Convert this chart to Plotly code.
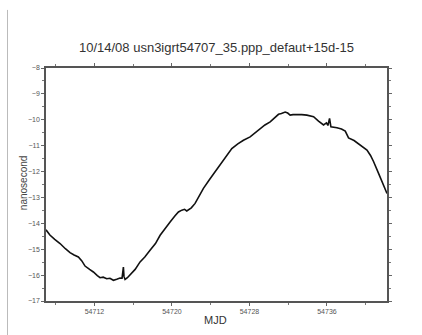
import plotly.graph_objects as go

mjd = [54707.0, 54707.4, 54707.9, 54708.45, 54709.0, 54709.48, 54709.9, 54710.34, 54710.7,
       54711.03, 54711.5, 54711.89, 54712.3, 54712.58, 54712.9, 54713.27, 54713.6, 54713.96,
       54714.3, 54714.64, 54714.85, 54714.99, 54715.05, 54715.16, 54715.4, 54715.68, 54716.2,
       54716.71, 54717.2, 54717.74, 54718.3, 54718.78, 54719.3, 54719.81, 54720.3, 54720.67,
       54721.02, 54721.3, 54721.53, 54722.0, 54722.39, 54722.8, 54723.25, 54723.9, 54724.46,
       54724.9, 54725.32, 54725.8, 54726.18, 54726.8, 54727.38, 54728.07, 54728.6, 54729.11,
       54729.6, 54730.14, 54730.6, 54731.0, 54731.3, 54731.69, 54731.95, 54732.2, 54732.5,
       54732.9, 54733.4, 54733.93, 54734.3, 54734.62, 54735.13, 54735.65, 54735.95, 54736.1,
       54736.27, 54736.41, 54737.03, 54737.5, 54737.89, 54738.23, 54738.8, 54739.44, 54740.13,
       54740.5, 54740.82, 54741.33, 54741.7, 54742.02, 54742.2]
ns = [-14.25, -14.45, -14.62, -14.78, -14.98, -15.13, -15.22, -15.30, -15.45,
      -15.65, -15.78, -15.88, -16.02, -16.10, -16.08, -16.14, -16.12, -16.20,
      -16.16, -16.11, -16.12, -15.69, -16.05, -16.17, -16.10, -16.00, -15.78,
      -15.49, -15.30, -15.04, -14.78, -14.46, -14.18, -13.95, -13.72, -13.56,
      -13.49, -13.46, -13.52, -13.40, -13.23, -12.95, -12.65, -12.30, -12.01,
      -11.78, -11.56, -11.30, -11.11, -10.93, -10.79, -10.66, -10.50, -10.33,
      -10.20, -10.08, -9.92, -9.79, -9.76, -9.70, -9.74, -9.82, -9.80,
      -9.79, -9.80, -9.82, -9.84, -9.88, -10.05, -10.20, -10.12, -10.22,
      -9.95, -10.27, -10.31, -10.36, -10.44, -10.70, -10.80, -10.98, -11.17,
      -11.38, -11.62, -12.07, -12.40, -12.72, -12.85]

title_text = "10/14/08 usn3igrt54707_35.ppp_defaut+15d-15"
x_label = "MJD"
y_label = "nanosecond"

fig = go.Figure()
fig.add_trace(go.Scatter(x=mjd, y=ns, mode="lines",
                         line=dict(color="#111", width=1.6), showlegend=False))

font_family = "Arial, Liberation Sans, sans-serif"
axis_common = dict(showline=True, linecolor="#555", linewidth=1.5, mirror="allticks",
                   ticks="outside", tickcolor="#666", ticklen=3, tickwidth=1,
                   showgrid=False, zeroline=False,
                   tickfont=dict(size=7, color="#555", family=font_family))

fig.update_xaxes(range=[54707, 54742.2], tick0=54712, dtick=8, tickformat="d",
                 minor=dict(dtick=4, tick0=54708, ticks="outside", ticklen=2, tickcolor="#777"),
                 **axis_common)
fig.update_yaxes(range=[-17, -8], dtick=1,
                 minor=dict(dtick=0.5, ticks="outside", ticklen=2, tickcolor="#777"),
                 **axis_common)

# axis titles placed as annotations (pixel-accurate positions)
fig.add_annotation(text=x_label, xref="paper", yref="paper", x=(215 - 46) / 341,
                   y=-(320 - 300.7) / 232.7, xanchor="center", yanchor="middle",
                   showarrow=False, font=dict(size=11, color="#333", family=font_family))
fig.add_annotation(text=y_label, xref="paper", yref="paper", x=(23 - 46) / 341,
                   y=(300.7 - 183) / 232.7, xanchor="center", yanchor="middle", textangle=-90,
                   showarrow=False, font=dict(size=10, color="#444", family=font_family))

# faint left border of the scanned page
fig.add_shape(type="line", xref="paper", yref="paper",
              x0=(7.5 - 46) / 341, x1=(7.5 - 46) / 341,
              y0=(300.7 - 10) / 232.7, y1=-(335 - 300.7) / 232.7,
              line=dict(color="#bbb", width=1))

fig.update_layout(
    width=422, height=335,
    margin=dict(l=46, r=35, t=68, b=34),
    paper_bgcolor="white", plot_bgcolor="white",
    title=dict(text=title_text, x=0.5, xref="paper", xanchor="center",
               y=1 - 47 / 335, yanchor="middle",
               font=dict(size=13, color="#333", family=font_family)),
)

fig.write_html("out.html", config={"displayModeBar": False},
               post_script="document.body.style.margin='0';")
